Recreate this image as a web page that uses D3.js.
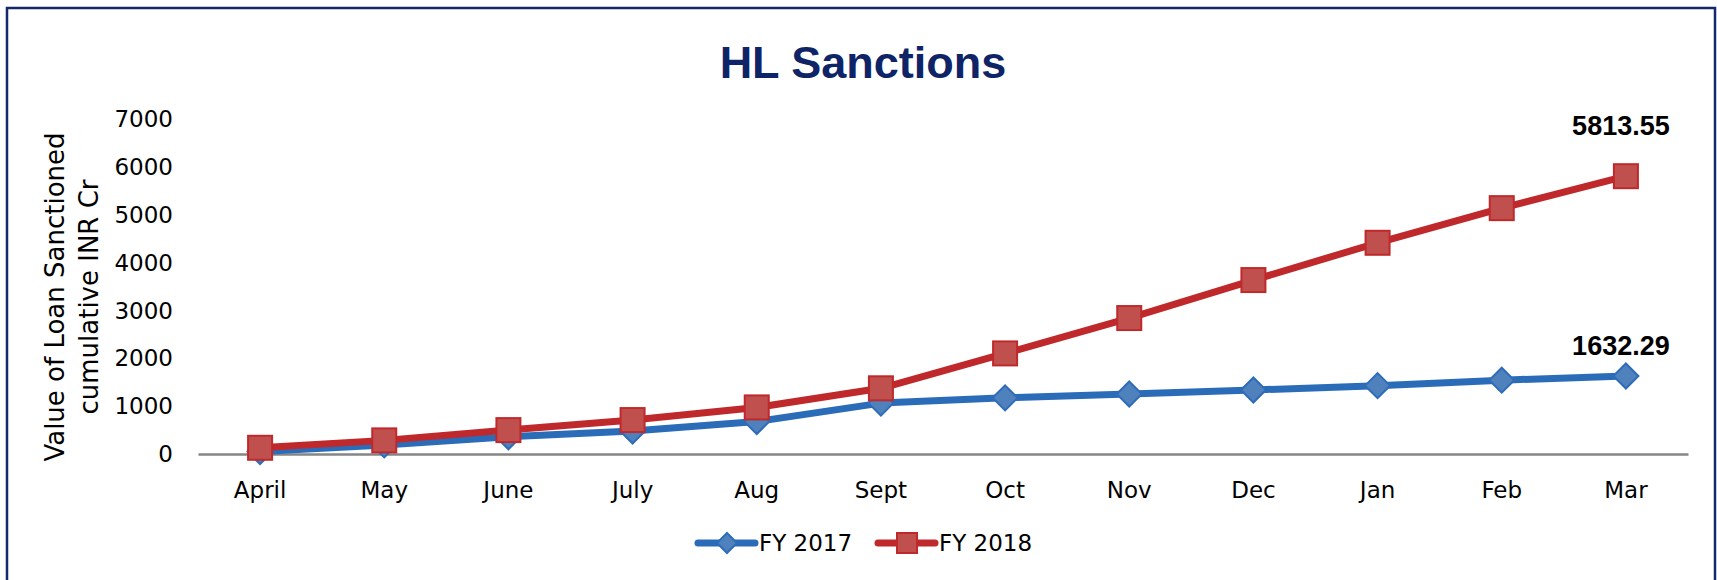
<!DOCTYPE html>
<html>
<head>
<meta charset="utf-8">
<script src="https://cdn.jsdelivr.net/npm/d3@7"></script>
<style>
  html, body { margin: 0; padding: 0; background: #fff; }
  svg { display: block; }
</style>
</head>
<body>
<svg id="chart" width="1717" height="580"></svg>
<script>
// chart values
var months = ["April", "May", "June", "July", "Aug", "Sept", "Oct", "Nov", "Dec", "Jan", "Feb", "Mar"];
var fy2017 = [50, 190, 360, 480, 680, 1065, 1175, 1255, 1340, 1430, 1545, 1632.29];
var fy2018 = [130, 285, 500, 710, 975, 1375, 2105, 2845, 3640, 4420, 5145, 5813.55];
var yTicks = [0, 1000, 2000, 3000, 4000, 5000, 6000, 7000];
var seriesNames = ["FY 2017", "FY 2018"];

var svg = d3.select("#chart"),
    margin = {top: 119.5, left: 198, right: 29, bottom: 126},
    width = 1717 - margin.left - margin.right,
    height = 580 - margin.top - margin.bottom;

var tickFont = "'DejaVu Sans', sans-serif";
var boldFont = "'Liberation Sans', Arial, sans-serif";

// outer frame
svg.append("rect")
    .attr("x", 7).attr("y", 8)
    .attr("width", 1708).attr("height", 600)
    .attr("fill", "#fff")
    .attr("stroke", "#13296b")
    .attr("stroke-width", 2.5);

svg.append("text")
    .attr("x", 863).attr("y", 78)
    .attr("text-anchor", "middle")
    .style("font", "bold 45px " + boldFont)
    .attr("fill", "#0f2466")
    .text("HL Sanctions");

var x = d3.scaleBand().domain(months).range([0, width]),
    y = d3.scaleLinear().domain([0, 7000]).range([height, 0]);

var g = svg.append("g")
    .attr("transform", "translate(" + margin.left + "," + margin.top + ")");

// y axis: labels only
var yAxis = g.append("g")
    .call(d3.axisLeft(y).tickValues(yTicks).tickSize(0).tickPadding(25).tickFormat(d3.format("d")));
yAxis.select(".domain").remove();
yAxis.selectAll("text")
    .style("font", "23px " + tickFont)
    .attr("fill", "#000");

// x axis
var xAxis = g.append("g")
    .attr("transform", "translate(0," + height + ")")
    .call(d3.axisBottom(x).tickSize(0).tickPadding(28));
xAxis.select(".domain")
    .attr("stroke", "#858585")
    .attr("stroke-width", 2.5);
xAxis.selectAll("text")
    .style("font", "23px " + tickFont)
    .attr("fill", "#000");

// y axis title
var yTitle = svg.append("text")
    .attr("transform", "translate(55,297) rotate(-90)")
    .attr("text-anchor", "middle")
    .style("font", "26px " + tickFont)
    .attr("fill", "#000");
yTitle.append("tspan").attr("x", 0).attr("dy", "0.35em").text("Value of Loan Sanctioned");
yTitle.append("tspan").attr("x", 0).attr("dy", 34).text("cumulative INR Cr");

var cx = function(i) { return x(months[i]) + x.bandwidth() / 2; };

var line = d3.line()
    .x(function(d, i) { return cx(i); })
    .y(function(d) { return y(d); });

var diamond = "M0,-12.5L12.5,0L0,12.5L-12.5,0Z";

var styles = [
    {line: "#2b6cb9", fill: "#4f81bd", stroke: "#2e6cb8"},
    {line: "#c0292b", fill: "#c0504d", stroke: "#c0292b"}
];

[fy2017, fy2018].forEach(function(vals, s) {
    g.append("path")
        .datum(vals)
        .attr("fill", "none")
        .attr("stroke", styles[s].line)
        .attr("stroke-width", 7)
        .attr("stroke-linejoin", "round")
        .attr("d", line);

    var m = g.selectAll(".m" + s)
        .data(vals)
        .enter();
    if (s === 0) {
        m.append("path")
            .attr("d", diamond)
            .attr("transform", function(d, i) { return "translate(" + cx(i) + "," + y(d) + ")"; })
            .attr("fill", styles[s].fill)
            .attr("stroke", styles[s].stroke)
            .attr("stroke-width", 2);
    } else {
        m.append("rect")
            .attr("x", function(d, i) { return cx(i) - 12; })
            .attr("y", function(d) { return y(d) - 12; })
            .attr("width", 24).attr("height", 24)
            .attr("fill", styles[s].fill)
            .attr("stroke", styles[s].stroke)
            .attr("stroke-width", 2);
    }
});

// value labels at March
var last = months.length - 1;
[[fy2017, 21], [fy2018, 41]].forEach(function(p) {
    g.append("text")
        .attr("x", cx(last) - 5)
        .attr("y", y(p[0][last]) - p[1])
        .attr("text-anchor", "middle")
        .style("font", "bold 27px " + boldFont)
        .attr("fill", "#000")
        .text(d3.format(".2f")(p[0][last]));
});

// legend
var legend = svg.append("g").attr("transform", "translate(698,543)");
var legendX = [0, 180];
seriesNames.forEach(function(name, s) {
    var lg = legend.append("g").attr("transform", "translate(" + legendX[s] + ",0)");
    lg.append("line")
        .attr("x1", 0).attr("x2", 57)
        .attr("stroke", styles[s].line)
        .attr("stroke-width", 7)
        .attr("stroke-linecap", "round");
    if (s === 0) {
        lg.append("path")
            .attr("d", "M0,-10L10,0L0,10L-10,0Z")
            .attr("transform", "translate(29,0)")
            .attr("fill", styles[s].fill)
            .attr("stroke", styles[s].stroke)
            .attr("stroke-width", 2);
    } else {
        lg.append("rect")
            .attr("x", 19).attr("y", -10)
            .attr("width", 20).attr("height", 20)
            .attr("fill", styles[s].fill)
            .attr("stroke", styles[s].stroke)
            .attr("stroke-width", 2);
    }
    lg.append("text")
        .attr("x", 61).attr("y", 0)
        .attr("dy", "0.35em")
        .style("font", "23px " + tickFont)
        .attr("fill", "#000")
        .text(name);
});
</script>
</body>
</html>
